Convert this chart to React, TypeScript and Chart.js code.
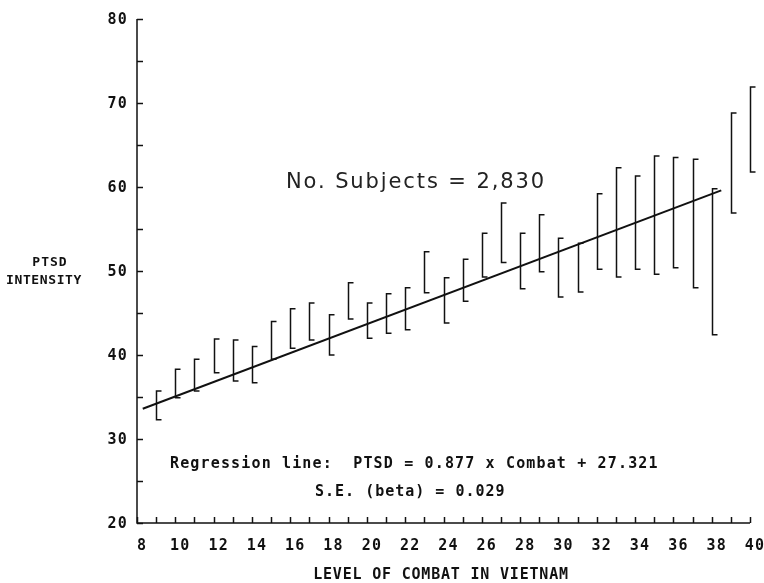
import React, { useEffect, useRef } from "react";
import { Chart, registerables } from "chart.js";

Chart.register(...registerables);

// Level of combat (x) for each error bar
const combat = [9, 10, 11, 12, 13, 14, 15, 16, 17, 18, 19, 20, 21, 22, 23, 24, 25, 26, 27, 28, 29, 30, 31, 32, 33, 34, 35, 36, 37, 38, 39, 40];
// Upper end of each error bar (PTSD intensity)
const upper = [35.7, 38.3, 39.5, 41.9, 41.8, 41.0, 44.0, 45.5, 46.2, 44.8, 48.6, 46.2, 47.3, 48.0, 52.3, 49.2, 51.4, 54.5, 58.1, 54.5, 56.7, 53.9, 53.3, 59.2, 62.3, 61.3, 63.7, 63.5, 63.3, 59.8, 68.8, 71.9];
// Lower end of each error bar
const lower = [32.3, 34.9, 35.7, 37.9, 36.9, 36.7, 39.5, 40.8, 41.8, 40.0, 44.3, 42.0, 42.6, 43.0, 47.4, 43.8, 46.4, 49.3, 51.0, 47.9, 49.9, 46.9, 47.5, 50.2, 49.3, 50.2, 49.6, 50.4, 48.0, 42.4, 56.9, 61.8];
// Regression line end points
const regX = [8.3, 38.5];
const regY = [33.6, 59.6];
// Tick labels
const xTickLabels = [8, 10, 12, 14, 16, 18, 20, 22, 24, 26, 28, 30, 32, 34, 36, 38, 40];
const yTickLabels = [20, 30, 40, 50, 60, 70, 80];

const MONO = "bold 15px 'DejaVu Sans Mono'";
const INK = "#111";

function drawSpaced(ctx: CanvasRenderingContext2D, text: string, x: number, y: number, spacing: number, align: CanvasTextAlign) {
  (ctx as any).letterSpacing = spacing + "px";
  ctx.textAlign = align;
  ctx.fillText(text, x, y);
  (ctx as any).letterSpacing = "0px";
}

const decorPlugin = {
  id: "decor",
  afterDraw(chart: any) {
    const ctx: CanvasRenderingContext2D = chart.ctx;
    const xs = chart.scales.x;
    const ys = chart.scales.y;
    const area = chart.chartArea;
    ctx.save();
    ctx.strokeStyle = INK;
    ctx.fillStyle = INK;

    // axes lines
    ctx.lineWidth = 1.5;
    ctx.beginPath();
    ctx.moveTo(area.left, area.top);
    ctx.lineTo(area.left, area.bottom);
    ctx.lineTo(area.right, area.bottom);
    ctx.stroke();

    // y ticks every 5, inward
    for (let v = 20; v <= 80; v += 5) {
      const py = Math.round(ys.getPixelForValue(v)) + 0.5;
      ctx.beginPath();
      ctx.moveTo(area.left, py);
      ctx.lineTo(area.left + 6, py);
      ctx.stroke();
    }
    // x ticks every 1, inward
    for (let v = 8; v <= 40; v += 1) {
      const px = Math.round(xs.getPixelForValue(v)) + 0.5;
      ctx.beginPath();
      ctx.moveTo(px, area.bottom);
      ctx.lineTo(px, area.bottom - 6);
      ctx.stroke();
    }

    // tick labels
    ctx.font = MONO;
    ctx.textBaseline = "middle";
    yTickLabels.forEach((v) => {
      drawSpaced(ctx, String(v), area.left - 9, ys.getPixelForValue(v) + 1, 1.2, "right");
    });
    xTickLabels.forEach((v) => {
      drawSpaced(ctx, String(v), xs.getPixelForValue(v) + 5, area.bottom + 23, 1.2, "center");
    });

    // axis titles
    drawSpaced(ctx, "LEVEL OF COMBAT IN VIETNAM", 441, 575, 0.8, "center");
    ctx.font = "bold 13px 'DejaVu Sans Mono'";
    drawSpaced(ctx, "PTSD", 50, 263, 1, "center");
    drawSpaced(ctx, "INTENSITY", 44, 281, 0.6, "center");

    // annotations
    ctx.font = MONO;
    drawSpaced(ctx, "Regression line:  PTSD = 0.877 x Combat + 27.321", 170, 464, 1.15, "left");
    drawSpaced(ctx, "S.E. (beta) = 0.029", 315, 492, 1.0, "left");

    ctx.font = "21px 'DejaVu Sans'";
    ctx.fillStyle = "#222";
    drawSpaced(ctx, "No. Subjects = 2,830", 286, 183, 1.9, "left");

    // error bars
    ctx.strokeStyle = INK;
    ctx.lineWidth = 1.5;
    combat.forEach((c, i) => {
      const px = Math.round(xs.getPixelForValue(c)) + 0.5;
      const top = ys.getPixelForValue(upper[i]);
      const bot = ys.getPixelForValue(lower[i]);
      ctx.beginPath();
      ctx.moveTo(px + 5, top);
      ctx.lineTo(px, top);
      ctx.lineTo(px, bot);
      ctx.lineTo(px + 5, bot);
      ctx.stroke();
    });
    ctx.restore();
  },
};

export default function App() {
  const ref = useRef<HTMLCanvasElement | null>(null);
  useEffect(() => {
    if (!ref.current) return;
    const chart = new Chart(ref.current, {
      type: "scatter",
      data: {
        datasets: [
          {
            type: "line",
            label: "Regression",
            data: regX.map((x, i) => ({ x, y: regY[i] })),
            borderColor: INK,
            borderWidth: 2,
            pointRadius: 0,
            fill: false,
          } as any,
        ],
      },
      options: {
        animation: false,
        responsive: false,
        maintainAspectRatio: false,
        layout: { padding: { left: 137, right: 14, top: 19, bottom: 60 } },
        scales: {
          x: { type: "linear", min: 8, max: 40, display: false },
          y: { type: "linear", min: 20, max: 80, display: false },
        },
        plugins: { legend: { display: false }, tooltip: { enabled: false } },
      },
      plugins: [decorPlugin],
    });
    return () => chart.destroy();
  }, []);
  return (
    <div style={{ position: "absolute", left: 0, top: 0, width: 764, height: 583, background: "#fff" }}>
      <canvas ref={ref} width={764} height={583} />
    </div>
  );
}
